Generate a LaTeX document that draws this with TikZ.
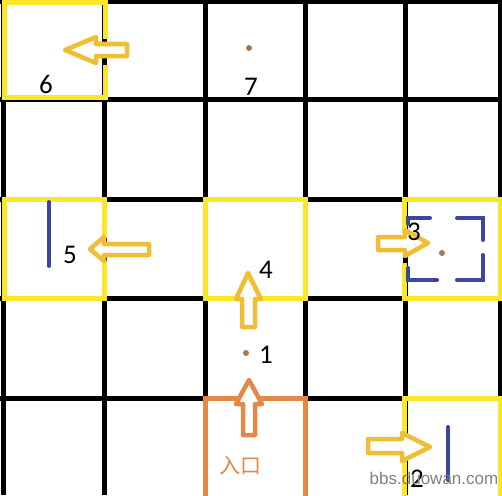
\documentclass[tikz,border=0pt]{standalone}
\usepackage{fontspec}
\setmainfont{Carlito}
\newfontfamily\cjkfont{Noto Sans CJK SC}
\newfontfamily\wmfont{Liberation Sans}
\definecolor{gridblack}{RGB}{0,0,0}
\definecolor{boxyellow}{RGB}{250,232,40}
\definecolor{arrowgold}{RGB}{240,190,50}
\definecolor{entryorange}{RGB}{230,135,70}
\definecolor{markblue}{RGB}{60,70,160}
\definecolor{dotbrown}{RGB}{170,120,80}
\tikzset{
  gridline/.style={draw=gridblack,line width=5pt},
  yellowbox/.style={draw=boxyellow,line width=5pt,line cap=rect},
  orangebox/.style={draw=entryorange,line width=5pt,line cap=rect},
  goldarrow/.style={draw=arrowgold,fill=white,line width=4.5pt,line join=round},
  orangearrow/.style={draw=entryorange,fill=white,line width=4.5pt,line join=round},
  blueline/.style={draw=markblue,line width=4pt,line cap=round},
  numlabel/.style={text=black,font=\fontsize{27}{27}\selectfont,inner sep=0pt},
  dotmark/.style={circle,fill=dotbrown,inner sep=0pt,minimum size=6pt},
  wmtext/.style={font=\wmfont\fontsize{17}{17}\selectfont,inner sep=0pt},
}
\begin{document}
\begin{tikzpicture}[x=1pt,y=-1pt]
\useasboundingbox (0,0) rectangle (502,495);
\fill[white] (0,0) rectangle (502,495);
% grid
\foreach \gx in {3,104,205,305,405,500} \draw[gridline] (\gx,0) -- (\gx,495);
\foreach \gy in {2,99,199,298,398} \draw[gridline] (0,\gy) -- (502,\gy);
% yellow boxes
\draw[yellowbox] (105,37) -- (105,3) -- (4,3) -- (4,97) -- (105,97) -- (105,67);
\draw[yellowbox] (104,235) -- (104,199) -- (4,199) -- (4,298) -- (104,298) -- (104,263);
\draw[yellowbox] (205,199) rectangle (305,298);
\draw[yellowbox] (404,230) -- (404,199) -- (500,199) -- (500,298) -- (404,298) -- (404,265);
\draw[yellowbox] (404,433) -- (404,398) -- (500,398) -- (500,497);
\draw[yellowbox] (404,497) -- (404,460);
% orange entry box
\draw[orangebox] (205,497) -- (205,398) -- (305,398) -- (305,497);
% arrows
\draw[goldarrow] (65,50) -- (96,37) -- (96,44) -- (127,44) -- (127,56) -- (96,56) -- (96,63) -- cycle;
\draw[goldarrow] (90,249) -- (104,237) -- (104,244) -- (149,244) -- (149,255) -- (104,255) -- (104,261) -- cycle;
\draw[goldarrow] (248,273) -- (261,299) -- (255,299) -- (255,327) -- (242,327) -- (242,299) -- (236,299) -- cycle;
\draw[orangearrow] (249,380) -- (262,404) -- (255,404) -- (255,435) -- (243,435) -- (243,404) -- (236,404) -- cycle;
\draw[goldarrow] (428,243) -- (405,230) -- (405,237) -- (378,237) -- (378,250) -- (405,250) -- (405,256) -- cycle;
\draw[goldarrow] (430,447) -- (402,433) -- (402,439) -- (368,439) -- (368,453) -- (402,453) -- (402,461) -- cycle;
% blue marks
\draw[blueline] (49,202) -- (49,266);
\draw[blueline] (448,427) -- (448,480);
\draw[blueline] (430,218) -- (408,218) -- (408,224);
\draw[blueline] (457,218) -- (483,218) -- (483,240);
\draw[blueline] (483,255) -- (483,280) -- (457,280);
\draw[blueline] (437,280) -- (408,280) -- (408,268);
% dots
\node[dotmark] (d7) at (249,48) {};
\node[dotmark] (d1) at (246,353) {};
\node[dotmark] (d3) at (442,253) {};
% labels
\node[numlabel] (l6) at (46,84) {6};
\node[numlabel] (l7) at (251,87) {7};
\node[numlabel] (l5) at (70,255) {5};
\node[numlabel] (l4) at (266,270) {4};
\node[numlabel] (l3) at (414,232) {3};
\node[numlabel] (l1) at (266,355) {1};
\node[numlabel] (l2) at (417,479) {2};
\node[text=entryorange,font=\cjkfont\fontsize{21}{21}\selectfont,inner sep=0pt] (entry) at (240,466) {入口};
\node[wmtext,text=black!50] (wm) at (434,478) {bbs.duowan.com};
\end{tikzpicture}
\end{document}
